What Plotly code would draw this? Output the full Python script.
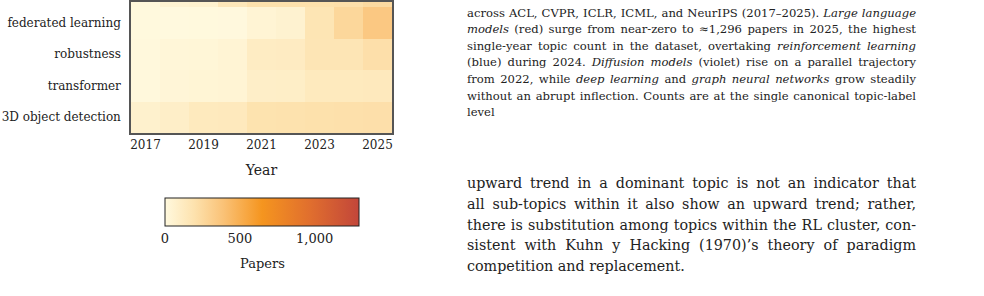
import plotly.graph_objects as go

years = [2017, 2018, 2019, 2020, 2021, 2022, 2023, 2024, 2025]
topics = ["3D object detection", "transformer", "robustness", "federated learning", "topic above (cropped)"]

papers_3d_object_detection = [70, 90, 130, 135, 190, 195, 200, 205, 210]
papers_transformer = [10, 30, 35, 40, 90, 95, 130, 130, 135]
papers_robustness = [8, 25, 28, 40, 110, 115, 165, 165, 210]
papers_federated_learning = [4, 2, 3, 5, 40, 57, 170, 260, 350]
papers_cropped_topic = [10, 50, 60, 150, 200, 200, 200, 210, 240]

z = [papers_3d_object_detection, papers_transformer, papers_robustness,
     papers_federated_learning, papers_cropped_topic]

z_max = 1296
colorbar_ticks = [0, 500, 1000]

caption_lines = [
    "across ACL, CVPR, ICLR, ICML, and NeurIPS (2017–2025). <i>Large language</i>",
    "<i>models</i> (red) surge from near-zero to ≈1,296 papers in 2025, the highest",
    "single-year topic count in the dataset, overtaking <i>reinforcement learning</i>",
    "(blue) during 2024. <i>Diffusion models</i> (violet) rise on a parallel trajectory",
    "from 2022, while <i>deep learning</i> and <i>graph neural networks</i> grow steadily",
    "without an abrupt inflection. Counts are at the single canonical topic-label",
    "level",
]
body_lines = [
    "upward trend in a dominant topic is not an indicator that",
    "all sub-topics within it also show an upward trend; rather,",
    "there is substitution among topics within the RL cluster, con-",
    "sistent with Kuhn y Hacking (1970)’s theory of paradigm",
    "competition and replacement.",
]

W, H = 984, 296
L, R, T, B = 131, 392, 0, 133
FONT = "DejaVu Serif"
TEXT_LEFT, TEXT_RIGHT = 466, 915

colorscale = [
    [0.0, "#FFF9DE"],
    [0.15, "#FDE2AE"],
    [0.3, "#FAC277"],
    [0.5, "#F5951F"],
    [0.75, "#E06E2E"],
    [1.0, "#C2463A"],
]

fig = go.Figure(go.Heatmap(
    x=years, y=topics, z=z, zmin=0, zmax=z_max, colorscale=colorscale,
    colorbar=dict(
        orientation="h", thickness=28, thicknessmode="pixels",
        len=194, lenmode="pixels",
        x=(262 - L) / (R - L), xanchor="center",
        y=-(199 - B) / (B - T), yanchor="top", ypad=0, xpad=0,
        outlinecolor="#222", outlinewidth=1,
        tickvals=colorbar_ticks, tickformat=",", ticks="",
        tickfont=dict(family=FONT, size=13, color="#222"),
    ),
    showscale=True,
))

fig.update_layout(
    width=W, height=H,
    margin=dict(l=L, r=W - R, t=T, b=H - B, pad=0),
    paper_bgcolor="white", plot_bgcolor="white",
    font=dict(family=FONT, size=12, color="#222"),
    xaxis=dict(
        tickvals=[2017, 2019, 2021, 2023, 2025], ticks="", showgrid=False,
        showline=True, linecolor="#555", linewidth=1.5, mirror=True,
        title=dict(text="Year", font=dict(family=FONT, size=14), standoff=14),
        tickfont=dict(family=FONT, size=12),
        range=[2016.5, 2025.5],
    ),
    yaxis=dict(
        type="category", categoryorder="array", categoryarray=topics,
        range=[-0.5, 3.5 + 5 / 32], ticks="", showgrid=False,
        showline=True, linecolor="#555", linewidth=1.5, mirror=True,
        tickfont=dict(family=FONT, size=12), ticklabelstandoff=6,
    ),
)

def px_x(px):
    return (px - L) / (R - L)

def px_y(py):
    return (B - py) / (B - T)

fig.add_annotation(text="Papers", xref="paper", yref="paper", x=px_x(262), y=px_y(265),
                   xanchor="center", yanchor="middle", showarrow=False,
                   font=dict(family=FONT, size=13, color="#222"))

cap_y = [11, 27.8, 44.6, 61.4, 78.2, 95, 111.8]
for line, yy in zip(caption_lines, cap_y):
    fig.add_annotation(text=line, xref="paper", yref="paper", x=px_x(TEXT_LEFT), y=px_y(yy),
                       xanchor="left", yanchor="middle", align="left", showarrow=False,
                       borderpad=0, font=dict(family=FONT, size=11.6, color="#222"))

body_y = [184, 205, 226, 247, 268]
for line, yy in zip(body_lines, body_y):
    fig.add_annotation(text=line, xref="paper", yref="paper", x=px_x(TEXT_LEFT), y=px_y(yy),
                       xanchor="left", yanchor="middle", align="left", showarrow=False,
                       borderpad=0, font=dict(family=FONT, size=14.3, color="#222"))

# justify the paragraph lines (word-spacing) like the typeset page
post_script = """
var target = %d;
document.querySelectorAll('.annotation-text').forEach(function(el){
  var w = el.getComputedTextLength();
  var n = (el.textContent.match(/ /g) || []).length;
  if (w > 0.8 * target && n > 0) {
    el.style.wordSpacing = ((target - w) / n) + 'px';
  }
});
""" % (TEXT_RIGHT - TEXT_LEFT)

fig.write_html("out.html", post_script=post_script)
